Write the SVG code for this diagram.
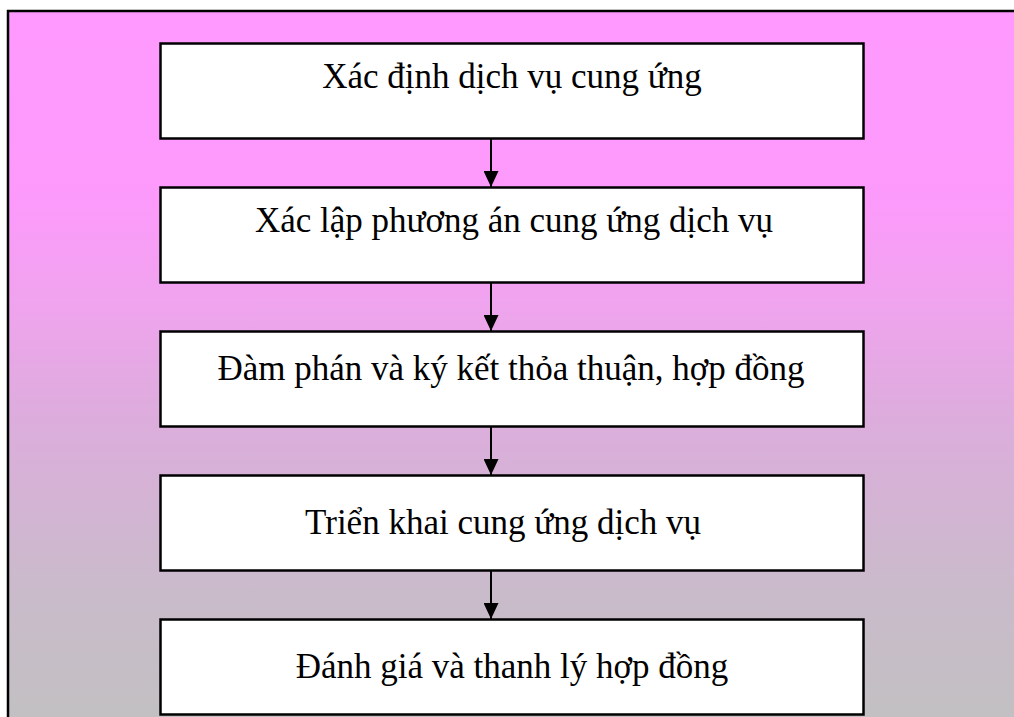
<svg xmlns="http://www.w3.org/2000/svg" width="1014" height="717" viewBox="0 0 1014 717">
  <defs>
    <linearGradient id="bg" gradientUnits="userSpaceOnUse" x1="0" y1="11" x2="0" y2="717">
      <stop offset="0" stop-color="#FF99FF"/>
      <stop offset="0.27" stop-color="#FC9AFB"/>
      <stop offset="0.41" stop-color="#F0A3EE"/>
      <stop offset="0.58" stop-color="#DCADDC"/>
      <stop offset="0.83" stop-color="#C9BBCA"/>
      <stop offset="1" stop-color="#C2C0C2"/>
    </linearGradient>
    <marker id="ah" markerWidth="16" markerHeight="15" refX="16" refY="7.5" orient="auto" markerUnits="userSpaceOnUse">
      <path d="M0,0 L16,7.5 L0,15 Z" fill="#000"/>
    </marker>
  </defs>
  <style>
    .box { fill: #fff; stroke: #000; stroke-width: 2.5; }
    .lbl { font-family: "Liberation Serif", "Times New Roman", serif; font-size: 35px; fill: #000; text-anchor: middle; }
    .conn { stroke: #000; stroke-width: 2; fill: none; }
  </style>
  <rect x="0" y="0" width="1014" height="717" fill="#fff"/>
  <rect x="8" y="11" width="1010" height="710" fill="url(#bg)"/>
  <path d="M8,717 V11 H1014" fill="none" stroke="#000" stroke-width="2.5"/>

  <g id="node1">
    <rect class="box" x="160.5" y="43.5" width="703" height="95"/>
    <text class="lbl" x="512" y="88">Xác định dịch vụ cung ứng</text>
  </g>
  <g id="node2">
    <rect class="box" x="160.5" y="187.5" width="703" height="95"/>
    <text class="lbl" x="514" y="232">Xác lập phương án cung ứng dịch vụ</text>
  </g>
  <g id="node3">
    <rect class="box" x="160.5" y="331.5" width="703" height="95"/>
    <text class="lbl" x="511" y="380">Đàm phán và ký kết thỏa thuận, hợp đồng</text>
  </g>
  <g id="node4">
    <rect class="box" x="160.5" y="475.5" width="703" height="95"/>
    <text class="lbl" x="503" y="534">Triển khai cung ứng dịch vụ</text>
  </g>
  <g id="node5">
    <rect class="box" x="160.5" y="619.5" width="703" height="95"/>
    <text class="lbl" x="512" y="678">Đánh giá và thanh lý hợp đồng</text>
  </g>

  <g id="connectors">
    <line class="conn" x1="491" y1="139" x2="491" y2="187" marker-end="url(#ah)"/>
    <line class="conn" x1="491" y1="283" x2="491" y2="331" marker-end="url(#ah)"/>
    <line class="conn" x1="491" y1="427" x2="491" y2="475" marker-end="url(#ah)"/>
    <line class="conn" x1="491" y1="571" x2="491" y2="619" marker-end="url(#ah)"/>
  </g>
</svg>
